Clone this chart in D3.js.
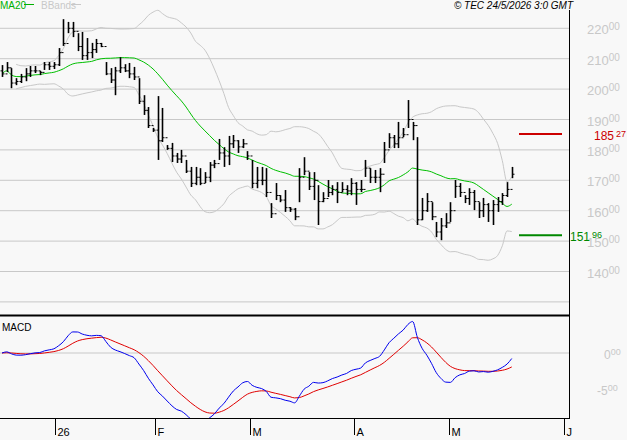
<!DOCTYPE html>
<html><head><meta charset="utf-8">
<script src="https://cdn.jsdelivr.net/npm/d3@7"></script>
<style>body{margin:0;background:#f8f8f8}svg{display:block;font-family:Arial,"Liberation Sans",sans-serif}</style>
</head><body><svg id="c" width="627" height="440"></svg>
<script>
const highs=[207.9,208.9,206.9,203.6,205.0,206.9,207.6,207.6,206.0,208.9,208.9,208.9,213.5,223.0,222.1,222.1,218.4,218.8,216.8,215.2,216.5,215.2,208.9,206.9,207.3,210.5,208.2,208.6,207.3,203.6,198.0,194.1,187.2,197.7,193.8,181.6,182.3,179.0,180.0,176.7,174.4,174.4,174.0,172.7,176.0,176.7,183.6,180.9,184.6,184.9,183.2,183.6,179.6,176.7,174.4,174.4,174.0,162.5,169.1,165.1,166.8,161.2,160.9,174.0,177.6,172.7,172.7,168.4,166.1,170.1,168.4,169.4,169.4,168.4,170.7,169.4,170.1,176.7,174.0,173.4,174.0,182.6,185.5,184.9,189.2,187.2,196.4,189.2,184.2,164.2,165.8,162.8,156.3,157.6,159.2,162.8,170.1,169.1,165.1,167.4,166.8,162.8,164.2,162.5,163.5,164.5,165.8,169.4,174.4];
const lows=[204.0,205.6,200.3,201.3,202.0,202.6,204.0,205.3,204.6,206.3,206.3,206.6,207.6,214.2,218.4,217.1,212.5,209.6,209.6,210.2,211.9,213.8,204.6,202.0,198.0,205.3,205.6,203.6,203.0,195.1,191.5,187.2,185.9,176.7,182.6,180.0,176.0,175.7,175.7,172.4,167.8,168.4,168.4,169.1,169.4,174.0,176.7,174.4,175.0,180.6,179.0,180.6,176.7,167.4,167.4,168.4,164.5,157.6,163.5,162.8,159.6,159.6,156.9,162.8,171.7,166.8,163.5,155.3,162.8,164.5,165.1,162.5,166.1,165.1,165.1,161.9,166.1,171.1,169.1,169.1,166.1,175.7,180.6,180.6,180.6,184.2,187.2,183.2,155.3,156.9,159.6,156.9,151.3,150.3,154.3,156.3,164.2,164.5,162.5,161.9,160.2,157.6,157.9,156.3,155.3,159.6,161.9,164.5,170.7];
const closes=[205,207,202,202.5,204,205,206,206,205.5,208,207.5,208,212,215,220,219,214,211,212,213,215,214,205,203,206,207,206,205,204,196,193,188,186.5,183,184,180.5,178,177,178,173,169,171,169,171,175,175.5,179,178,182,183,181,182,178,169,170,170,166,159,165,163.5,161,160.5,158,171,173,168,170,163,164,166,167,166,167,166.5,169,167,167,174,171,171,172,180,184,182,184,185,190,188,157,160,163,158,153,155,156,160,168,166,164,166,163,160,162,160,162,163,165,167,172];
const opens=closes.map((c,i)=>i?closes[i-1]:206);
const priceTicks=[140,150,160,170,180,190,200,210,220,230,130];
const macdTicks=[0,-5];
const monthLabels=["26","F","M","A","M","J"];
const monthIdx=[11.2,32.4,52.5,74.6,94.7,119];
const resistance=185.27, support=151.96;

const svg=d3.select("#c");
const W=569;
const x=d3.scaleLinear().domain([0,1]).range([2,6.72]);
const y=d3.scaleLinear().domain([220,140]).range([28.3,271.5]);
const ym=d3.scaleLinear().domain([0,-5]).range([353,389]);
const grid="#c8c8c8";

svg.append("rect").attr("width",627).attr("height",440).attr("fill","#f8f8f8");
const defs=svg.append("defs");
defs.append("clipPath").attr("id","cm").append("rect").attr("x",0).attr("y",0).attr("width",W).attr("height",314);
defs.append("clipPath").attr("id","cd").append("rect").attr("x",0).attr("y",317).attr("width",W).attr("height",101);

// grid
priceTicks.forEach(p=>{ if(y(p)>0&&y(p)<314) svg.append("line").attr("x1",0).attr("x2",W).attr("y1",y(p)).attr("y2",y(p)).attr("stroke",grid);});
svg.append("line").attr("x1",0).attr("x2",W).attr("y1",ym(0)).attr("y2",ym(0)).attr("stroke",grid);

// axis labels
priceTicks.filter(p=>p>=140&&p<=220).forEach(p=>{
  const t=svg.append("text").attr("x",587).attr("y",y(p)+6).attr("fill",grid).attr("font-size",13);
  t.append("tspan").text(p);
  t.append("tspan").attr("font-size",10).attr("dy",-4).text("00");
});
macdTicks.forEach(v=>{
  const t=svg.append("text").attr("x",v===0?604:597).attr("y",ym(v)+6).attr("fill",grid).attr("font-size",12);
  t.append("tspan").text(v);
  t.append("tspan").attr("font-size",9).attr("dy",-4).text("00");
});

// indicators
const n=closes.length;
const ma=[],up=[],lo=[];
for(let i=0;i<n;i++){const w=closes.slice(Math.max(0,i-19),i+1);const m=d3.mean(w);const s=Math.sqrt(d3.mean(w,v=>(v-m)**2));ma.push(m);up.push(m+2*s);lo.push(m-2*s);}
function ema(a,k){const al=2/(k+1);const o=[];a.forEach((v,i)=>o.push(i?o[i-1]+al*(v-o[i-1]):v));return o;}
const e12=ema(closes,12),e26=ema(closes,26);
const macd=e12.map((v,i)=>v-e26[i]);
const sig=ema(macd,9);

const gm=svg.append("g").attr("clip-path","url(#cm)");
const ln=(arr,yy)=>d3.line().x((d,i)=>x(i)).y(d=>yy(d)).curve(d3.curveMonotoneX)(arr);
gm.append("path").attr("d",ln(up.slice(3),v=>y(v)).replace(/^M[^L]*/,m=>m)).attr("transform","translate("+(x(3)-x(0))+",0)").attr("fill","none").attr("stroke",grid);
gm.append("path").attr("d",ln(lo.slice(3),v=>y(v))).attr("transform","translate("+(x(3)-x(0))+",0)").attr("fill","none").attr("stroke",grid);
gm.append("path").attr("d",ln(ma,v=>y(v))).attr("fill","none").attr("stroke","#00c000");

// bars
closes.forEach((c,i)=>{
  const xi=Math.round(x(i))+0.5;
  gm.append("line").attr("x1",xi).attr("x2",xi).attr("y1",y(highs[i])).attr("y2",y(lows[i])).attr("stroke","#000").attr("stroke-width",1.6);
  gm.append("line").attr("x1",xi-2).attr("x2",xi).attr("y1",y(opens[i])).attr("y2",y(opens[i])).attr("stroke","#000");
  gm.append("line").attr("x1",xi).attr("x2",xi+2).attr("y1",y(c)).attr("y2",y(c)).attr("stroke","#000");
});

// support / resistance
svg.append("line").attr("x1",519).attr("x2",562).attr("y1",y(resistance)).attr("y2",y(resistance)).attr("stroke","#cc0000").attr("stroke-width",2);
svg.append("line").attr("x1",519).attr("x2",562).attr("y1",y(support)).attr("y2",y(support)).attr("stroke","#008800").attr("stroke-width",2);
function lbl(v,xx,col){const s=v.toFixed(2).split(".");const t=svg.append("text").attr("x",xx).attr("y",y(v)+6).attr("fill",col).attr("font-size",12);t.append("tspan").text(s[0]);t.append("tspan").attr("font-size",9).attr("dx",2).attr("dy",-3).text(s[1]);}
lbl(resistance,594,"#cc0000");
lbl(support,570,"#008800");

// macd
const gd=svg.append("g").attr("clip-path","url(#cd)");
gd.append("path").attr("d",ln(sig,v=>ym(v))).attr("fill","none").attr("stroke","#e00000");
gd.append("path").attr("d",ln(macd,v=>ym(v))).attr("fill","none").attr("stroke","#0000ee");

// frame
svg.append("line").attr("x1",569.5).attr("x2",569.5).attr("y1",10).attr("y2",419).attr("stroke","#000");
svg.append("line").attr("x1",0).attr("x2",570).attr("y1",315.5).attr("y2",315.5).attr("stroke","#000").attr("stroke-width",2);
svg.append("line").attr("x1",0).attr("x2",570).attr("y1",418.5).attr("y2",418.5).attr("stroke","#000");
monthIdx.forEach((m,k)=>{
  const xx=Math.round(x(m))+0.5;
  svg.append("line").attr("x1",xx).attr("x2",xx).attr("y1",418).attr("y2",435).attr("stroke","#000");
  svg.append("text").attr("x",xx+2).attr("y",436).attr("font-size",11).attr("fill","#000").text(monthLabels[k]);
});

// legends
svg.append("text").attr("x",0).attr("y",9).attr("font-size",10).attr("fill","#00b000").text("MA20");
svg.append("line").attr("x1",24).attr("x2",34).attr("y1",4.5).attr("y2",4.5).attr("stroke","#00b000");
svg.append("text").attr("x",41).attr("y",9).attr("font-size",10).attr("fill",grid).text("BBands");
svg.append("line").attr("x1",71).attr("x2",81).attr("y1",4.5).attr("y2",4.5).attr("stroke",grid);
svg.append("text").attr("x",573).attr("y",9).attr("font-size",10).attr("font-style","italic").attr("text-anchor","end").attr("fill","#000").text("© TEC 24/5/2026 3:0 GMT");
svg.append("text").attr("x",2).attr("y",331).attr("font-size",10).attr("fill","#000").text("MACD");
</script></body></html>
